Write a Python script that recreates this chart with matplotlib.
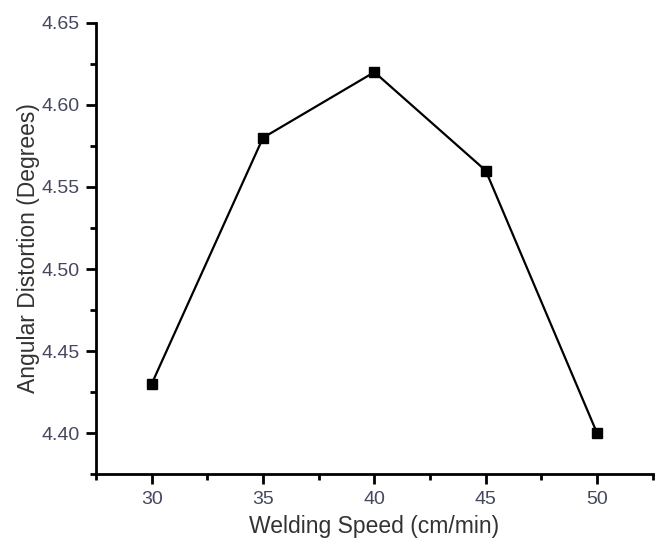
#!/usr/bin/env python3

import matplotlib
matplotlib.use("Agg")
import matplotlib.pyplot as plt
from matplotlib.ticker import MultipleLocator

# Data
speed = [30, 35, 40, 45, 50]
distortion = [4.43, 4.58, 4.62, 4.56, 4.40]
x_ticks = [30, 35, 40, 45, 50]
y_ticks = [4.40, 4.45, 4.50, 4.55, 4.60, 4.65]


def main():
    '''Main function'''
    plt.rcParams['font.family'] = ['Liberation Sans', 'DejaVu Sans']

    fig = plt.figure(figsize=(6.62, 5.45), dpi=100)
    ax = fig.add_axes([0.145, 0.130, 0.841, 0.828])

    ax.plot(speed, distortion, color='black', linewidth=1.6,
            marker='s', markersize=7, markerfacecolor='black',
            markeredgecolor='black')

    ax.set_xlim(27.5, 52.5)
    ax.set_ylim(4.375, 4.65)
    ax.set_xticks(x_ticks)
    ax.set_yticks(y_ticks)
    ax.set_yticklabels(["%.2f" % v for v in y_ticks])
    ax.xaxis.set_minor_locator(MultipleLocator(2.5))
    ax.yaxis.set_minor_locator(MultipleLocator(0.025))

    for side in ['top', 'right']:
        ax.spines[side].set_visible(False)
    for side in ['left', 'bottom']:
        ax.spines[side].set_linewidth(2)

    ax.tick_params(which='major', direction='out', length=7, width=2,
                   labelsize=14, labelcolor='#45475e', pad=5)
    ax.tick_params(which='minor', direction='out', length=4, width=2)

    ax.set_xlabel("Welding Speed (cm/min)", fontsize=16.5, color='#333333',
                  labelpad=5)
    ax.set_ylabel("Angular Distortion (Degrees)", fontsize=16.5,
                  color='#333333', labelpad=1)

    fig.savefig("out.png", dpi=100)


if __name__ == '__main__':
    main()
